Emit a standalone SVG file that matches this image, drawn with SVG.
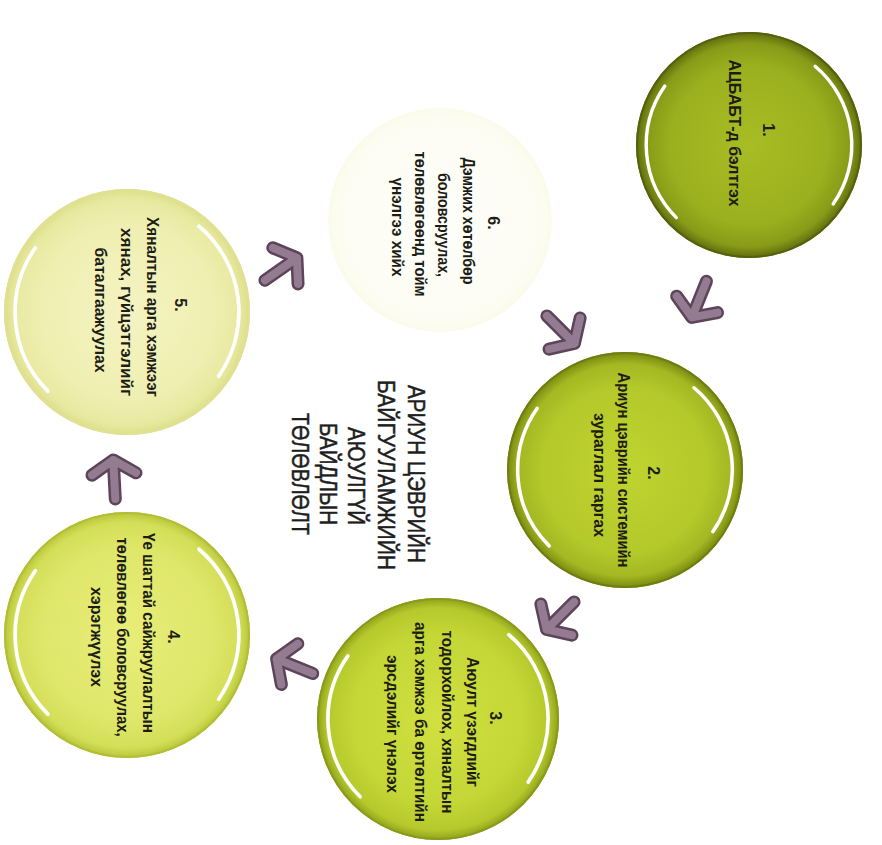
<svg xmlns="http://www.w3.org/2000/svg" xmlns:xlink="http://www.w3.org/1999/xlink" width="882" height="845" viewBox="0 0 882 845">
  <style>
    .t { font-family: "Liberation Sans", Arial, sans-serif; font-weight: bold; font-size: 16px; fill: #1d1d16; text-anchor: middle; }
    .h { font-family: "Liberation Sans", Arial, sans-serif; font-weight: normal; font-size: 23px; fill: #1e1e1e; stroke: #1e1e1e; stroke-width: 0.5; text-anchor: middle; }
    .rim { fill: none; stroke-width: 2; }
  </style>
  <defs>
    <radialGradient id="g1" cx="50%" cy="50%" r="50%">
      <stop offset="0%" stop-color="#a8bc24"/>
      <stop offset="70%" stop-color="#9bb01e"/>
      <stop offset="90%" stop-color="#889b18"/>
      <stop offset="100%" stop-color="#5f6b0e"/>
    </radialGradient>
    <radialGradient id="g2" cx="50%" cy="50%" r="50%">
      <stop offset="0%" stop-color="#c0d430"/>
      <stop offset="70%" stop-color="#b4c92a"/>
      <stop offset="90%" stop-color="#a3b822"/>
      <stop offset="100%" stop-color="#78880f"/>
    </radialGradient>
    <radialGradient id="g3" cx="50%" cy="50%" r="50%">
      <stop offset="0%" stop-color="#d0e040"/>
      <stop offset="70%" stop-color="#c4d736"/>
      <stop offset="92%" stop-color="#b5c92c"/>
      <stop offset="100%" stop-color="#8fa01a"/>
    </radialGradient>
    <radialGradient id="g4" cx="50%" cy="50%" r="50%">
      <stop offset="0%" stop-color="#e8ed78"/>
      <stop offset="70%" stop-color="#dfe76a"/>
      <stop offset="92%" stop-color="#d3de58"/>
      <stop offset="100%" stop-color="#b7c436"/>
    </radialGradient>
    <radialGradient id="g5" cx="50%" cy="50%" r="50%">
      <stop offset="0%" stop-color="#f4f3c2"/>
      <stop offset="70%" stop-color="#efefb2"/>
      <stop offset="92%" stop-color="#e8e9a0"/>
      <stop offset="100%" stop-color="#dcde88"/>
    </radialGradient>
    <radialGradient id="g6" cx="50%" cy="50%" r="50%">
      <stop offset="0%" stop-color="#fefefa"/>
      <stop offset="85%" stop-color="#fdfdf4"/>
      <stop offset="100%" stop-color="#fbfbec"/>
    </radialGradient>
    <!-- white gloss arcs, drawn for a circle of radius 100 at the origin -->
    <g id="gloss" fill="none" stroke="#ffffff" stroke-width="3" stroke-linecap="round">
      <path d="M -74.5 -52.2 A 91 91 0 0 0 -64.3 64.3"/>
      <path d="M 58.5 -69.7 A 91 91 0 0 1 74.5 52.2"/>
    </g>
    <!-- chunky arrow, tip at the origin, pointing along +x -->
    <g id="arr" fill="none" stroke-linecap="round" stroke-linejoin="round">
      <path d="M -44 0 L -5 0 M -19 -22 L -5 0 L -19 22" stroke="#5d4459" stroke-width="13"/>
      <path d="M -44 0 L -5 0 M -19 -22 L -5 0 L -19 22" stroke="#937c91" stroke-width="8"/>
    </g>
  </defs>

  <rect width="882" height="845" fill="#ffffff"/>

  <!-- step 6 (very pale) -->
  <g id="step6">
    <circle cx="440" cy="220" r="112" fill="url(#g6)"/>
    <text class="t" transform="translate(488,223) rotate(90)">6.</text>
    <text class="t" transform="translate(463,221) rotate(90)" textLength="127" lengthAdjust="spacingAndGlyphs">Дэмжих хөтөлбөр</text>
    <text class="t" transform="translate(438,225) rotate(90)" textLength="104" lengthAdjust="spacingAndGlyphs">боловсруулах,</text>
    <text class="t" transform="translate(415,224) rotate(90)" textLength="145" lengthAdjust="spacingAndGlyphs">төлөвлөгөөнд тойм</text>
    <text class="t" transform="translate(392,227) rotate(90)" textLength="99" lengthAdjust="spacingAndGlyphs">үнэлгээ хийх</text>
  </g>

  <!-- step 1 -->
  <g id="step1">
    <circle cx="749" cy="145" r="113" fill="url(#g1)"/>
    <circle class="rim" cx="749" cy="145" r="112" stroke="#56610b"/>
    <use href="#gloss" transform="translate(749,145) scale(1.13)"/>
    <text class="t" transform="translate(763,130) rotate(90)">1.</text>
    <text class="t" transform="translate(729,133) rotate(90)" textLength="147" lengthAdjust="spacingAndGlyphs">АЦБАБТ-д бэлтгэх</text>
  </g>

  <!-- step 2 -->
  <g id="step2">
    <circle cx="625" cy="470" r="118" fill="url(#g2)"/>
    <circle class="rim" cx="625" cy="470" r="117" stroke="#6f7e10"/>
    <use href="#gloss" transform="translate(625,470) scale(1.18)"/>
    <text class="t" transform="translate(648,473) rotate(90)">2.</text>
    <text class="t" transform="translate(618,470) rotate(90)" textLength="195" lengthAdjust="spacingAndGlyphs">Ариун цэврийн системийн</text>
    <text class="t" transform="translate(594,475) rotate(90)" textLength="124" lengthAdjust="spacingAndGlyphs">зураглал гаргах</text>
  </g>

  <!-- step 3 -->
  <g id="step3">
    <circle cx="438" cy="719" r="121" fill="url(#g3)"/>
    <circle class="rim" cx="438" cy="719" r="120" stroke="#8a9a1a"/>
    <use href="#gloss" transform="translate(438,719) scale(1.21)"/>
    <text class="t" transform="translate(490,718) rotate(90)">3.</text>
    <text class="t" transform="translate(467,722) rotate(90)" textLength="130" lengthAdjust="spacingAndGlyphs">Аюулт үзэгдлийг</text>
    <text class="t" transform="translate(442,722) rotate(90)" textLength="183" lengthAdjust="spacingAndGlyphs">тодорхойлох, хяналтын</text>
    <text class="t" transform="translate(415,722) rotate(90)" textLength="200" lengthAdjust="spacingAndGlyphs">арга хэмжээ ба өртөлтийн</text>
    <text class="t" transform="translate(387,724) rotate(90)" textLength="138" lengthAdjust="spacingAndGlyphs">эрсдэлийг үнэлэх</text>
  </g>

  <!-- step 4 -->
  <g id="step4">
    <circle cx="127" cy="635" r="123" fill="url(#g4)"/>
    <circle class="rim" cx="127" cy="635" r="122" stroke="#b2bf36"/>
    <use href="#gloss" transform="translate(127,635) scale(1.23)"/>
    <text class="t" transform="translate(168,637) rotate(90)">4.</text>
    <text class="t" transform="translate(143,633) rotate(90)" textLength="200" lengthAdjust="spacingAndGlyphs">Үе шаттай сайжруулалтын</text>
    <text class="t" transform="translate(117,637) rotate(90)" textLength="199" lengthAdjust="spacingAndGlyphs">төлөвлөгөө боловсруулах,</text>
    <text class="t" transform="translate(91,637) rotate(90)" textLength="100" lengthAdjust="spacingAndGlyphs">хэрэгжүүлэх</text>
  </g>

  <!-- step 5 -->
  <g id="step5">
    <circle cx="127" cy="312" r="123" fill="url(#g5)"/>
    <circle class="rim" cx="127" cy="312" r="122" stroke="#e0e194"/>
    <use href="#gloss" transform="translate(127,312) scale(1.23)"/>
    <text class="t" transform="translate(175,305) rotate(90)">5.</text>
    <text class="t" transform="translate(147,307) rotate(90)" textLength="180" lengthAdjust="spacingAndGlyphs">Хяналтын арга хэмжээг</text>
    <text class="t" transform="translate(121,312) rotate(90)" textLength="168" lengthAdjust="spacingAndGlyphs">хянах, гүйцэтгэлийг</text>
    <text class="t" transform="translate(95,310) rotate(90)" textLength="125" lengthAdjust="spacingAndGlyphs">баталгаажуулах</text>
  </g>

  <!-- central title -->
  <g id="title">
    <text class="h" transform="translate(408,474) rotate(90)" textLength="178" lengthAdjust="spacingAndGlyphs">АРИУН ЦЭВРИЙН</text>
    <text class="h" transform="translate(378,475) rotate(90)" textLength="190" lengthAdjust="spacingAndGlyphs">БАЙГУУЛАМЖИЙН</text>
    <text class="h" transform="translate(348,476) rotate(90)" textLength="98" lengthAdjust="spacingAndGlyphs">АЮУЛГҮЙ</text>
    <text class="h" transform="translate(320,474) rotate(90)" textLength="102" lengthAdjust="spacingAndGlyphs">БАЙДЛЫН</text>
    <text class="h" transform="translate(292,474) rotate(90)" textLength="122" lengthAdjust="spacingAndGlyphs">ТӨЛӨВЛӨЛТ</text>
  </g>

  <!-- connectors -->
  <g id="connectors">
    <use href="#arr" transform="translate(690,322) rotate(112)"/>
    <use href="#arr" transform="translate(578,347) rotate(45)"/>
    <use href="#arr" transform="translate(543,633) rotate(135)"/>
    <use href="#arr" transform="translate(272,657) rotate(202)"/>
    <use href="#arr" transform="translate(113,455) rotate(267)"/>
    <use href="#arr" transform="translate(301,255) rotate(-35)"/>
  </g>
</svg>
